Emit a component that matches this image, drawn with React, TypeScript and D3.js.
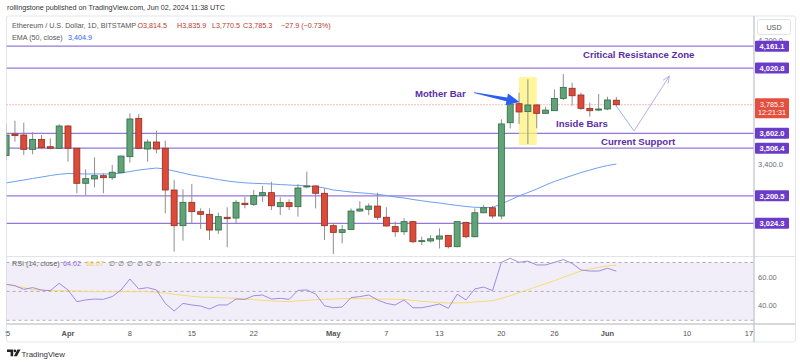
import React from "react";
import * as d3 from "d3";

const FONT = "'Liberation Sans', Arial, sans-serif";

const dates = [
  "2024-03-25","2024-03-26","2024-03-27","2024-03-28","2024-03-29","2024-03-30","2024-03-31",
  "2024-04-01","2024-04-02","2024-04-03","2024-04-04","2024-04-05","2024-04-06","2024-04-07",
  "2024-04-08","2024-04-09","2024-04-10","2024-04-11","2024-04-12","2024-04-13","2024-04-14",
  "2024-04-15","2024-04-16","2024-04-17","2024-04-18","2024-04-19","2024-04-20","2024-04-21",
  "2024-04-22","2024-04-23","2024-04-24","2024-04-25","2024-04-26","2024-04-27","2024-04-28",
  "2024-04-29","2024-04-30","2024-05-01","2024-05-02","2024-05-03","2024-05-04","2024-05-05",
  "2024-05-06","2024-05-07","2024-05-08","2024-05-09","2024-05-10","2024-05-11","2024-05-12",
  "2024-05-13","2024-05-14","2024-05-15","2024-05-16","2024-05-17","2024-05-18","2024-05-19",
  "2024-05-20","2024-05-21","2024-05-22","2024-05-23","2024-05-24","2024-05-25","2024-05-26",
  "2024-05-27","2024-05-28","2024-05-29","2024-05-30","2024-05-31","2024-06-01","2024-06-02",
];

const opens = [
  3459,3598,3591,3499,3563,3516,3506,3649,3506,3281,3309,3330,3317,3349,
  3452,3698,3501,3546,3506,3238,3009,3159,3099,3082,2981,3063,3058,3153,
  3146,3204,3221,3131,3157,3131,3258,3264,3217,3009,2966,2985,3103,3114,
  3135,3063,3003,2970,3035,2911,2911,2923,2947,2874,3030,2938,3092,3124,
  3071,3670,3792,3741,3784,3730,3747,3826,3891,3848,3762,3751,3758,3814.5,
];
const highs = [
  3666,3683,3670,3608,3591,3570,3660,3656,3506,3371,3448,3345,3399,3458,
  3730,3726,3564,3619,3555,3302,3242,3277,3120,3120,3093,3127,3174,3195,
  3238,3264,3291,3191,3178,3277,3356,3270,3249,3024,3013,3120,3167,3152,
  3221,3127,3035,3056,3041,2938,2949,2992,2947,3035,3035,3120,3142,3135,
  3692,3820,3863,3948,3788,3773,3884,3983,3927,3863,3799,3854,3837,3835.9,
];
const lows = [
  3431,3548,3463,3467,3499,3499,3506,3420,3217,3206,3255,3217,3302,3347,
  3414,3499,3420,3474,3088,2842,2913,3024,2988,2917,2956,2870,3024,3121,
  3136,3163,3110,3077,3110,3067,3249,3120,2917,2827,2896,2985,3099,3077,
  3045,3003,2938,2949,2896,2885,2900,2863,2863,2870,2928,2934,3088,3056,
  3050,3634,3662,3533,3634,3726,3747,3816,3779,3751,3709,3745,3751,3770.5,
];
const closes = [
  3591,3587,3499,3563,3510,3506,3649,3506,3281,3311,3330,3317,3352,3456,
  3694,3506,3546,3501,3238,3009,3159,3099,3082,2981,3067,3054,3159,3144,
  3202,3221,3137,3157,3131,3251,3264,3217,3009,2966,2983,3103,3116,3135,
  3063,3007,2970,3035,2906,2913,2925,2943,2874,3035,2938,3092,3124,3071,
  3662,3790,3739,3784,3730,3751,3826,3897,3843,3762,3747,3758,3816,3785.3,
];
const ema50 = [
  3283,3293,3302,3312,3321,3331,3339,3344,3342,3341,
  3341,3341,3341,3347,3357,3366,3373,3379,3373,3360,
  3347,3334,3325,3315,3305,3296,3289,3284,3281,3279,
  3277,3273,3270,3267,3264,3260,3251,3238,3232,3225,
  3220,3216,3210,3203,3193,3187,3177,3169,3161,3155,
  3146,3139,3132,3127,3126,3126,3148,3174,3200,3222,
  3244,3270,3293,3312,3331,3350,3366,3382,3395,3404.9,
];
const rsi = [
  54.9,54.0,51.4,52.6,51.0,50.5,55.6,51.0,42.9,44.1,
  44.7,44.5,46.4,51.0,58.6,51.7,52.6,51.0,41.7,36.4,
  41.7,40.6,39.9,37.8,40.6,40.6,44.7,44.5,47.0,47.5,
  44.7,45.2,44.5,50.7,51.0,48.2,40.1,38.7,39.2,45.7,
  46.4,47.5,44.1,41.7,40.6,44.1,38.7,38.7,39.9,41.3,
  38.3,48.0,44.1,51.7,53.0,50.5,70.1,72.9,70.1,71.0,
  68.3,68.3,70.1,72.0,69.4,64.8,64.1,64.1,66.0,64.02,
];
const rsiMa = [
  54.9,53.7,52.6,51.2,50.7,50.5,50.5,50.3,50.3,50.0,
  49.8,49.8,49.8,49.8,49.8,49.8,49.8,49.3,48.9,48.0,
  47.3,46.6,46.1,45.9,45.7,45.4,45.2,44.7,44.3,43.8,
  43.4,43.1,42.9,43.4,43.8,44.3,44.5,44.7,45.0,45.0,
  45.0,45.0,44.7,44.7,44.5,44.5,43.8,43.1,42.7,42.2,
  42.0,42.0,42.2,42.7,43.1,43.6,45.2,47.0,49.1,51.2,
  53.3,55.4,57.4,59.7,62.0,64.1,65.5,66.6,67.6,68.07,
];

const levels = [4161.1, 4020.8, 3602.0, 3506.4, 3200.5, 3024.3];
const priceTicks = [3000, 3200, 3400, 3600, 3800, 4000, 4200];
const rsiTicks = [60, 40];
const rsiBands = [70, 50, 30];
const xTicks = [
  { d: "2024-03-25", t: "25", b: false },
  { d: "2024-04-01", t: "Apr", b: true },
  { d: "2024-04-08", t: "8", b: false },
  { d: "2024-04-15", t: "15", b: false },
  { d: "2024-04-22", t: "22", b: false },
  { d: "2024-05-01", t: "May", b: true },
  { d: "2024-05-07", t: "7", b: false },
  { d: "2024-05-13", t: "13", b: false },
  { d: "2024-05-20", t: "20", b: false },
  { d: "2024-05-26", t: "26", b: false },
  { d: "2024-06-01", t: "Jun", b: true },
  { d: "2024-06-10", t: "10", b: false },
  { d: "2024-06-17", t: "17", b: false },
];

const lastClose = 3785.3;

export default function App() {
  const parse = d3.utcParse("%Y-%m-%d");
  const dts = dates.map((s) => parse(s) as Date);
  const x = d3.scaleUtc().domain([parse("2024-04-01") as Date, parse("2024-06-17") as Date]).range([68, 749]);
  const y = d3.scaleLinear().domain([3024.3, 3602]).range([223.3, 133.3]);
  const yr = d3.scaleLinear().domain([30, 70]).range([320.3, 262.5]);
  const dayAt = (s: string, offDays = 0) => new Date((parse(s) as Date).getTime() + offDays * 86400000);

  const L = 6.5, R = 754;
  const fmt = d3.format(",.1f");

  const emaLine = d3.line<number>().x((_, i) => x(dts[i])).y((v) => y(v))(ema50) || "";
  const rsiLine = d3.line<number>().x((_, i) => x(dts[i])).y((v) => yr(v))(rsi) || "";
  const rsiMaLine = d3.line<number>().x((_, i) => x(dts[i])).y((v) => yr(v))(rsiMa) || "";

  const bw = 6;
  const green = "#62a279", greenS = "#2f6b45", red = "#dc4a3a", redS = "#952c21";

  // annotation anchors (data space)
  const hlX0 = x(dayAt("2024-05-22")), hlX1 = x(dayAt("2024-05-24"));
  const hlY0 = y(3963), hlY1 = y(3527);

  const tail = [x(dayAt("2024-05-16", 0.9)), y(3863)];
  const tip = [x(dayAt("2024-05-22", 0.05)), y(3803)];
  const dx = tip[0] - tail[0], dy = tip[1] - tail[1];
  const len = Math.hypot(dx, dy);
  const ux = dx / len, uy = dy / len, px = -uy, py = ux;
  const hb = [tip[0] - 13 * ux, tip[1] - 13 * uy];
  const arrowPts = [
    [tail[0] - 0.4 * px, tail[1] - 0.4 * py],
    [hb[0] - 2 * px, hb[1] - 2 * py],
    [hb[0] - 6 * px, hb[1] - 6 * py],
    tip,
    [hb[0] + 6 * px, hb[1] + 6 * py],
    [hb[0] + 2 * px, hb[1] + 2 * py],
    [tail[0] + 0.4 * px, tail[1] + 0.4 * py],
  ].map((p) => p.join(",")).join(" ");

  const pA = [x(dayAt("2024-06-02")), y(3777)];
  const pB = [x(dayAt("2024-06-04")), y(3617)];
  const pC = [x(dayAt("2024-06-08")), y(3970)];
  const vx = pC[0] - pB[0], vy = pC[1] - pB[1];
  const vl = Math.hypot(vx, vy);
  const wx = vx / vl, wy = vy / vl;
  const back = [pC[0] - 7 * wx, pC[1] - 7 * wy];
  const h1 = [back[0] - 3 * wy, back[1] + 3 * wx];
  const h2 = [back[0] + 3 * wy, back[1] - 3 * wx];

  const annColor = "#5b2ea6";
  const annFont = { fontFamily: FONT, fontSize: 9.6, fontWeight: 700, fill: annColor } as const;
  const small = { fontFamily: FONT, fontSize: 7.2 } as const;

  // price-axis ticks: hidden behind level labels, or partly clipped
  const boxYs = [...levels.map((l) => y(l)), y(lastClose) + 3.75];
  const tickInfo = priceTicks.map((t) => {
    const ty = y(t);
    let nearest = boxYs[0];
    boxYs.forEach((b) => { if (Math.abs(b - ty) < Math.abs(nearest - ty)) nearest = b; });
    const dist = ty - nearest;
    const hidden = Math.abs(dist) < 5;
    const partial = !hidden && Math.abs(dist) < 11;
    let clip = null as null | { y0: number; y1: number };
    if (partial) clip = dist < 0 ? { y0: 16, y1: nearest - 5.5 } : { y0: nearest + 5.5, y1: 256 };
    return { t, ty, hidden, clip };
  });

  const cy = y(lastClose);

  return (
    <svg width={800} height={364} style={{ position: "absolute", left: 0, top: 0, background: "#fff" }}>
      <defs>
        <clipPath id="mainClip"><rect x={L} y={16} width={R - L} height={240} /></clipPath>
        <clipPath id="rsiClip"><rect x={L} y={256.5} width={R - L} height={67.5} /></clipPath>
        <clipPath id="xClip"><rect x={L - 1} y={324} width={R - L + 6} height={18} /></clipPath>
        {tickInfo.map((ti) => ti.clip ? (
          <clipPath key={"c" + ti.t} id={"tc" + ti.t}>
            <rect x={755} y={ti.clip.y0} width={40} height={ti.clip.y1 - ti.clip.y0} />
          </clipPath>
        ) : null)}
      </defs>
      <rect x={0} y={0} width={800} height={364} fill="#fff" />
      {/* header */}
      <text x={7} y={10} {...small} fill="#333">rollingstone published on TradingView.com, Jun 02, 2024 11:38 UTC</text>
      {/* frame */}
      <rect x={L} y={16} width={795.5 - L} height={326} fill="none" stroke="#e3e5ea" rx={2} />

      {/* main pane */}
      <g clipPath="url(#mainClip)">
        {levels.map((l) => (
          <line key={l} x1={L} x2={R} y1={y(l)} y2={y(l)} stroke="#9478d8" strokeWidth={1.3} />
        ))}
        <line x1={L} x2={R} y1={cy} y2={cy} stroke="#f06a5b" strokeWidth={0.9} strokeDasharray="1,2" />
        <rect x={hlX0} y={hlY0} width={hlX1 - hlX0} height={hlY1 - hlY0} fill="#fff17a" opacity={0.75} />
        <path d={emaLine} fill="none" stroke="#6c9ef2" strokeWidth={1} />
        {dts.map((d, i) => (
          <line key={"w" + i} x1={x(d)} x2={x(d)} y1={y(highs[i])} y2={y(lows[i])} stroke="#8f8f8f" strokeWidth={1} />
        ))}
        {dts.map((d, i) => {
          const up = closes[i] >= opens[i];
          const y0 = y(Math.max(opens[i], closes[i]));
          const y1 = y(Math.min(opens[i], closes[i]));
          return (
            <rect key={"b" + i} x={x(d) - bw / 2} y={y0} width={bw} height={Math.max(1, y1 - y0)}
              fill={up ? green : red} stroke={up ? greenS : redS} strokeWidth={0.8} />
          );
        })}
        {/* projection */}
        <line x1={pA[0]} y1={pA[1]} x2={pB[0]} y2={pB[1]} stroke="#93b9ec" strokeWidth={1} />
        <line x1={pB[0]} y1={pB[1]} x2={pC[0]} y2={pC[1]} stroke="#b7aee9" strokeWidth={1} />
        <polyline points={`${h1[0]},${h1[1]} ${pC[0]},${pC[1]} ${h2[0]},${h2[1]}`} fill="none" stroke="#b7aee9" strokeWidth={1} />
        {/* mother bar arrow */}
        <polygon points={arrowPts} fill="#2a5ff0" />
        <text x={415} y={97.4} {...annFont}>Mother Bar</text>
        <text x={583} y={58.4} {...annFont}>Critical Resistance Zone</text>
        <text x={556} y={127.4} {...annFont}>Inside Bars</text>
        <text x={601} y={145.4} {...annFont}>Current Support</text>
      </g>

      {/* legend */}
      <g {...small}>
        <text x={12} y={28} fill="#555">Ethereum / U.S. Dollar, 1D, BITSTAMP</text>
        <text x={137.5} y={28} fill="#b5392b">O3,814.5</text>
        <text x={177} y={28} fill="#b5392b">H3,835.9</text>
        <text x={212} y={28} fill="#b5392b">L3,770.5</text>
        <text x={243} y={28} fill="#b5392b">C3,785.3</text>
        <text x={281} y={28} fill="#b5392b">−27.9 (−0.73%)</text>
        <text x={12} y={39.5} fill="#555">EMA (50, close)</text>
        <text x={68} y={39.5} fill="#2962ff">3,404.9</text>
      </g>

      {/* separator */}
      <line x1={L} x2={795.5} y1={256.5} y2={256.5} stroke="#e0e3eb" />

      {/* RSI pane */}
      <g clipPath="url(#rsiClip)">
        <rect x={L} y={yr(70)} width={R - L} height={yr(30) - yr(70)} fill="#7e57c2" opacity={0.1} />
        {rsiBands.map((b) => (
          <line key={b} x1={L} x2={R} y1={yr(b)} y2={yr(b)} stroke="#9a9ca6" strokeWidth={0.8} strokeDasharray="3,3" />
        ))}
        <path d={rsiMaLine} fill="none" stroke="#f4dc74" strokeWidth={1} />
        <path d={rsiLine} fill="none" stroke="#a18ae0" strokeWidth={1} />
      </g>
      <g {...small}>
        <text x={12} y={265.5} fill="#666">RSI (14, close)</text>
        <text x={63} y={265.5} fill="#8e6fd8">64.02</text>
        <text x={86} y={265.5} fill="#f2d14c">68.07</text>
        <text x={109} y={265.5} fill="#777" letterSpacing={3.2}>∅∅∅∅∅∅</text>
      </g>

      {/* axes lines */}
      <line x1={L} x2={795.5} y1={324} y2={324} stroke="#c9cbd1" strokeWidth={1.6} />
      <line x1={R} x2={R} y1={16} y2={342} stroke="#c9cbd1" strokeWidth={1.4} />

      {/* x labels */}
      <g clipPath="url(#xClip)">
        {xTicks.map((t) => (
          <text key={t.d} x={x(dayAt(t.d))} y={336} textAnchor="middle" {...small} fontSize={7.5}
            fontWeight={t.b ? 700 : 400} fill="#555">{t.t}</text>
        ))}
      </g>

      {/* price axis */}
      {tickInfo.filter((ti) => !ti.hidden).map((ti) => (
        <text key={ti.t} x={758} y={ti.ty + 2.6} {...small} fontSize={7.5} fill="#6a6d78"
          clipPath={ti.clip ? `url(#tc${ti.t})` : undefined}>{fmt(ti.t)}</text>
      ))}
      {rsiTicks.map((t) => (
        <text key={t} x={758} y={yr(t) + 2.6} {...small} fontSize={7.5} fill="#6a6d78">{t.toFixed(2)}</text>
      ))}
      {levels.map((l) => (
        <g key={"lb" + l}>
          <rect x={755} y={y(l) - 5.5} width={34} height={11} fill="#6b3cc9" rx={1} />
          <text x={772} y={y(l) + 2.7} textAnchor="middle" {...small} fontSize={7.5} fontWeight={700} fill="#fff">{fmt(l)}</text>
        </g>
      ))}
      <rect x={755} y={cy - 6.5} width={34} height={20} fill="#e3503e" rx={1} />
      <text textAnchor="middle" {...small} fill="#fff">
        <tspan x={772} y={cy + 1.8}>{fmt(lastClose)}</tspan>
        <tspan x={772} y={cy + 10.6}>12:21:31</tspan>
      </text>
      <rect x={757.5} y={19.5} width={33} height={15} rx={2} fill="#fff" stroke="#e0e3eb" />
      <text x={774} y={29.6} textAnchor="middle" {...small} fill="#555">USD</text>

      {/* TradingView logo */}
      <g fill="#222">
        <path d="M7 349.6 h6.2 v6.6 h-2.6 v-4.1 h-3.6 z" />
        <circle cx={14.9} cy={350.9} r={1.3} />
        <path d="M17.4 349.6 h3.1 l-3.6 6.6 h-3 z" />
      </g>
      <text x={21.5} y={356.5} fontFamily={FONT} fontSize={7.9} fill="#333">TradingView</text>
    </svg>
  );
}
